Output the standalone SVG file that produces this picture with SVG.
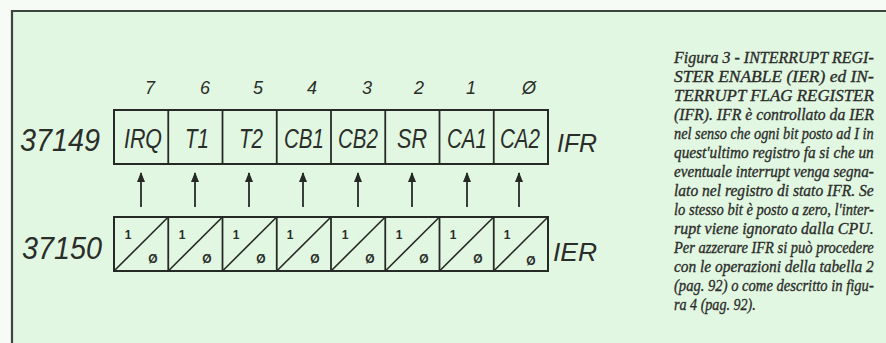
<svg xmlns="http://www.w3.org/2000/svg" width="886" height="343" viewBox="0 0 886 343">
  <style>
    .paper { fill: #e2f7e1; }
    .frame { fill: none; stroke: #3c4640; stroke-width: 2.2; }
    .box { fill: none; stroke: #262a26; stroke-width: 2; }
    .div { stroke: #262a26; stroke-width: 1.8; }
    .diag { stroke: #262a26; stroke-width: 1.6; }
    .hand { font-family: "Liberation Sans", "DejaVu Sans", sans-serif; font-style: italic; fill: #2a2e2a; }
    .bit { font-size: 18px; text-anchor: middle; }
    .addr { font-size: 31px; }
    .cell { font-size: 27px; text-anchor: middle; }
    .reg { font-size: 26px; }
    .small { font-family: "Liberation Sans", sans-serif; font-weight: bold; font-size: 12px; fill: #2a2e2a; text-anchor: middle; }
    .cap { font-family: "Liberation Serif", "Times New Roman", serif; font-style: italic; font-size: 17px; fill: #2b2d2b; stroke: #2b2d2b; stroke-width: 0.35; }
    .arrow { stroke: #262a26; stroke-width: 1.8; fill: none; marker-end: url(#head); }
  </style>
  <defs>
    <marker id="head" viewBox="0 0 10 8" refX="9" refY="4" markerWidth="10" markerHeight="8" markerUnits="userSpaceOnUse" orient="auto">
      <path d="M0,0 L10,4 L0,8 Z" fill="#262a26"/>
    </marker>
  </defs>

  <!-- page and frame -->
  <rect x="0" y="0" width="886" height="343" fill="#f6fcf5"/>
  <rect class="paper" x="12" y="11" width="874" height="332"/>
  <path class="frame" d="M12,343 L12,11 L886,11"/>

  <!-- bit numbers -->
  <g id="bit-numbers" class="hand bit">
    <text x="150" y="94">7</text>
    <text x="205" y="94">6</text>
    <text x="258" y="94">5</text>
    <text x="312" y="94">4</text>
    <text x="367" y="94">3</text>
    <text x="419" y="94">2</text>
    <text x="471" y="94">1</text>
    <text x="529" y="94">Ø</text>
  </g>

  <!-- interrupt flag register -->
  <g id="ifr-register">
    <text class="hand addr" x="20" y="151" textLength="80" lengthAdjust="spacingAndGlyphs">37149</text>
    <rect class="box" x="114" y="110" width="434" height="54"/>
    <line class="div" x1="168.25" y1="110" x2="168.25" y2="164"/>
    <line class="div" x1="222.5" y1="110" x2="222.5" y2="164"/>
    <line class="div" x1="276.75" y1="110" x2="276.75" y2="164"/>
    <line class="div" x1="331" y1="110" x2="331" y2="164"/>
    <line class="div" x1="385.25" y1="110" x2="385.25" y2="164"/>
    <line class="div" x1="439.5" y1="110" x2="439.5" y2="164"/>
    <line class="div" x1="493.75" y1="110" x2="493.75" y2="164"/>
    <g class="hand cell">
      <text x="143" y="148" textLength="38" lengthAdjust="spacingAndGlyphs">IRQ</text>
      <text x="197" y="148" textLength="24" lengthAdjust="spacingAndGlyphs">T1</text>
      <text x="251" y="148" textLength="24" lengthAdjust="spacingAndGlyphs">T2</text>
      <text x="304" y="148" textLength="40" lengthAdjust="spacingAndGlyphs">CB1</text>
      <text x="358" y="148" textLength="40" lengthAdjust="spacingAndGlyphs">CB2</text>
      <text x="412" y="148" textLength="30" lengthAdjust="spacingAndGlyphs">SR</text>
      <text x="467" y="148" textLength="40" lengthAdjust="spacingAndGlyphs">CA1</text>
      <text x="520" y="148" textLength="40" lengthAdjust="spacingAndGlyphs">CA2</text>
    </g>
    <text class="hand reg" x="557" y="152" textLength="40" lengthAdjust="spacingAndGlyphs">IFR</text>
  </g>

  <!-- interrupt enable register -->
  <g id="ier-register">
    <text class="hand addr" x="22" y="259" textLength="80" lengthAdjust="spacingAndGlyphs">37150</text>
    <rect class="box" x="114" y="217" width="434" height="54"/>
    <line class="div" x1="168.25" y1="217" x2="168.25" y2="271"/>
    <line class="div" x1="222.5" y1="217" x2="222.5" y2="271"/>
    <line class="div" x1="276.75" y1="217" x2="276.75" y2="271"/>
    <line class="div" x1="331" y1="217" x2="331" y2="271"/>
    <line class="div" x1="385.25" y1="217" x2="385.25" y2="271"/>
    <line class="div" x1="439.5" y1="217" x2="439.5" y2="271"/>
    <line class="div" x1="493.75" y1="217" x2="493.75" y2="271"/>
    <g>
      <line class="diag" x1="114" y1="271" x2="168.25" y2="217"/>
      <line class="diag" x1="168.25" y1="271" x2="222.5" y2="217"/>
      <line class="diag" x1="222.5" y1="271" x2="276.75" y2="217"/>
      <line class="diag" x1="276.75" y1="271" x2="331" y2="217"/>
      <line class="diag" x1="331" y1="271" x2="385.25" y2="217"/>
      <line class="diag" x1="385.25" y1="271" x2="439.5" y2="217"/>
      <line class="diag" x1="439.5" y1="271" x2="493.75" y2="217"/>
      <line class="diag" x1="493.75" y1="271" x2="548" y2="217"/>
    </g>
    <g class="small">
      <text x="128" y="239">1</text>
      <text x="182" y="239">1</text>
      <text x="236" y="239">1</text>
      <text x="290" y="239">1</text>
      <text x="345" y="239">1</text>
      <text x="399" y="239">1</text>
      <text x="453" y="239">1</text>
      <text x="507" y="239">1</text>
      <text x="153" y="263">Ø</text>
      <text x="207" y="263">Ø</text>
      <text x="261" y="263">Ø</text>
      <text x="315" y="263">Ø</text>
      <text x="370" y="263">Ø</text>
      <text x="424" y="263">Ø</text>
      <text x="478" y="263">Ø</text>
      <text x="531" y="265">Ø</text>
    </g>
    <text class="hand reg" x="553" y="261" textLength="44" lengthAdjust="spacingAndGlyphs">IER</text>
  </g>

  <!-- enable bits feeding the flag bits -->
  <g id="connectors">
    <line class="arrow" x1="141" y1="207" x2="141" y2="173"/>
    <line class="arrow" x1="195" y1="207" x2="195" y2="173"/>
    <line class="arrow" x1="249" y1="207" x2="249" y2="173"/>
    <line class="arrow" x1="303" y1="207" x2="303" y2="173"/>
    <line class="arrow" x1="358" y1="207" x2="358" y2="173"/>
    <line class="arrow" x1="412" y1="207" x2="412" y2="173"/>
    <line class="arrow" x1="467" y1="207" x2="467" y2="173"/>
    <line class="arrow" x1="519" y1="207" x2="519" y2="173"/>
  </g>

  <!-- caption: condensed italic, justified to a 200px column -->
  <g id="caption" class="cap" transform="matrix(0.88,0,0,1,674,0)">
    <text x="0" y="63" textLength="227" lengthAdjust="spacingAndGlyphs">Figura 3 - INTERRUPT REGI-</text>
    <text x="0" y="82" textLength="227" lengthAdjust="spacingAndGlyphs">STER ENABLE (IER) ed IN-</text>
    <text x="0" y="101" textLength="227" lengthAdjust="spacingAndGlyphs">TERRUPT FLAG REGISTER</text>
    <text x="0" y="120" textLength="227" lengthAdjust="spacingAndGlyphs">(IFR). IFR è controllato da IER</text>
    <text x="0" y="139" textLength="227" lengthAdjust="spacingAndGlyphs">nel senso che ogni bit posto ad I in</text>
    <text x="0" y="158" textLength="227" lengthAdjust="spacingAndGlyphs">quest'ultimo registro fa si che un</text>
    <text x="0" y="177" textLength="227" lengthAdjust="spacingAndGlyphs">eventuale interrupt venga segna-</text>
    <text x="0" y="196" textLength="227" lengthAdjust="spacingAndGlyphs">lato nel registro di stato IFR. Se</text>
    <text x="0" y="215" textLength="227" lengthAdjust="spacingAndGlyphs">lo stesso bit è posto a zero, l'inter-</text>
    <text x="0" y="234" textLength="227" lengthAdjust="spacingAndGlyphs">rupt viene ignorato dalla CPU.</text>
    <text x="0" y="253" textLength="227" lengthAdjust="spacingAndGlyphs">Per azzerare IFR si può procedere</text>
    <text x="0" y="272" textLength="227" lengthAdjust="spacingAndGlyphs">con le operazioni della tabella 2</text>
    <text x="0" y="291" textLength="227" lengthAdjust="spacingAndGlyphs">(pag. 92) o come descritto in figu-</text>
    <text x="0" y="310" textLength="93" lengthAdjust="spacingAndGlyphs">ra 4 (pag. 92).</text>
  </g>
</svg>
